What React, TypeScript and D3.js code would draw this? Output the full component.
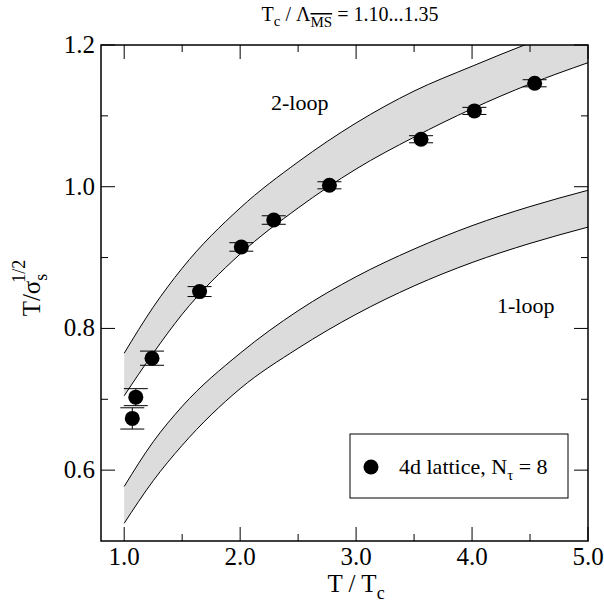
import React from 'react';
import * as d3 from 'd3';

const bandX = [1.0, 1.25, 1.5, 2.0, 2.5, 3.0, 3.5, 4.0, 4.5, 5.0];
const twoLoopLow = [0.705, 0.765, 0.82, 0.905, 0.97, 1.025, 1.07, 1.11, 1.145, 1.175];
const twoLoopHigh = [0.765, 0.83, 0.885, 0.97, 1.035, 1.09, 1.135, 1.17, 1.203, 1.232];
const oneLoopLow = [0.525, 0.585, 0.635, 0.715, 0.772, 0.82, 0.86, 0.893, 0.92, 0.943];
const oneLoopHigh = [0.577, 0.64, 0.69, 0.765, 0.825, 0.873, 0.912, 0.945, 0.972, 0.995];

const latX = [1.07, 1.1, 1.24, 1.65, 2.01, 2.29, 2.77, 3.56, 4.02, 4.54];
const latY = [0.673, 0.703, 0.758, 0.852, 0.915, 0.953, 1.002, 1.067, 1.107, 1.146];
const latErr = [0.015, 0.012, 0.01, 0.007, 0.006, 0.006, 0.005, 0.005, 0.005, 0.005];

const xTicks = [1, 2, 3, 4, 5];
const yTicks = [0.6, 0.8, 1.0, 1.2];

const W = 604, H = 612;
const m = { left: 101, right: 16, top: 45, bottom: 71 };
const x = d3.scaleLinear().domain([0.8, 5.0]).range([m.left, W - m.right]);
const y = d3.scaleLinear().domain([0.5, 1.2]).range([H - m.bottom, m.top]);
const font = "'Liberation Serif', 'Times New Roman', serif";

function Band({ lo, hi }: { lo: number[]; hi: number[] }) {
  const pts = bandX.map((v, i) => ({ x: v, lo: lo[i], hi: hi[i] }));
  const area = d3.area<any>().x(d => x(d.x)).y0(d => y(d.lo)).y1(d => y(d.hi)).curve(d3.curveMonotoneX);
  const lineLo = d3.line<any>().x(d => x(d.x)).y(d => y(d.lo)).curve(d3.curveMonotoneX);
  const lineHi = d3.line<any>().x(d => x(d.x)).y(d => y(d.hi)).curve(d3.curveMonotoneX);
  return (
    <g>
      <path d={area(pts) || ''} fill="#dcdcdc" />
      <path d={lineLo(pts) || ''} fill="none" stroke="#000" strokeWidth={1} />
      <path d={lineHi(pts) || ''} fill="none" stroke="#000" strokeWidth={1} />
    </g>
  );
}

export default function App() {
  const x0 = m.left, x1 = W - m.right, y0 = H - m.bottom, y1 = m.top;
  const xMinor = d3.range(1.5, 5.0, 1);
  return (
    <svg width={W} height={H} style={{ position: 'absolute', left: 0, top: 0, fontFamily: font }}>
      <defs>
        <clipPath id="plot"><rect x={x0} y={y1} width={x1 - x0} height={y0 - y1} /></clipPath>
      </defs>
      <g clipPath="url(#plot)">
        <Band lo={twoLoopLow} hi={twoLoopHigh} />
        <Band lo={oneLoopLow} hi={oneLoopHigh} />
      </g>
      {latX.map((v, i) => (
        <g key={i}>
          <line x1={x(v)} x2={x(v)} y1={y(latY[i] - latErr[i])} y2={y(latY[i] + latErr[i])} stroke="#000" />
          <line x1={x(v) - 12} x2={x(v) + 12} y1={y(latY[i] - latErr[i])} y2={y(latY[i] - latErr[i])} stroke="#000" />
          <line x1={x(v) - 12} x2={x(v) + 12} y1={y(latY[i] + latErr[i])} y2={y(latY[i] + latErr[i])} stroke="#000" />
          <circle cx={x(v)} cy={y(latY[i])} r={7.5} fill="#000" />
        </g>
      ))}
      <rect x={x0} y={y1} width={x1 - x0} height={y0 - y1} fill="none" stroke="#000" strokeWidth={1.5} />
      {xTicks.map(t => (
        <g key={t}>
          <line x1={x(t)} x2={x(t)} y1={y0} y2={y0 - 14} stroke="#000" />
          <line x1={x(t)} x2={x(t)} y1={y1} y2={y1 + 14} stroke="#000" />
          <text x={x(t)} y={y0 + 24} textAnchor="middle" fontSize={25}>{t.toFixed(1)}</text>
        </g>
      ))}
      {xMinor.map(t => (
        <g key={t}>
          <line x1={x(t)} x2={x(t)} y1={y0} y2={y0 - 7} stroke="#000" />
          <line x1={x(t)} x2={x(t)} y1={y1} y2={y1 + 7} stroke="#000" />
        </g>
      ))}
      {yTicks.map(t => (
        <g key={t}>
          <line x1={x0} x2={x0 + 14} y1={y(t)} y2={y(t)} stroke="#000" />
          <line x1={x1} x2={x1 - 14} y1={y(t)} y2={y(t)} stroke="#000" />
          <text x={x0 - 6} y={y(t) + 8} textAnchor="end" fontSize={25}>{t.toFixed(1)}</text>
        </g>
      ))}
      {[0.7, 0.9, 1.1].map(t => (
        <g key={t}>
          <line x1={x0} x2={x0 + 7} y1={y(t)} y2={y(t)} stroke="#000" />
          <line x1={x1} x2={x1 - 7} y1={y(t)} y2={y(t)} stroke="#000" />
        </g>
      ))}
      <text x={x(3.0)} y={592} textAnchor="middle" fontSize={25}>
        T / T<tspan dy={7} fontSize={18}>c</tspan>
      </text>
      <text transform={`translate(40, 288) rotate(-90)`} textAnchor="middle" fontSize={25}>
        T/σ<tspan dy={7} fontSize={18}>s</tspan><tspan dx={-9} dy={-22} fontSize={18}>1/2</tspan>
      </text>
      <text x={350} y={21} textAnchor="middle" fontSize={20}>
        T<tspan dy={5} fontSize={15}>c</tspan><tspan dy={-5}> / Λ</tspan>
        <tspan dy={6} fontSize={15} textDecoration="overline">MS</tspan><tspan dy={-6}> = 1.10...1.35</tspan>
      </text>
      <text x={271} y={110} fontSize={22}>2-loop</text>
      <text x={497} y={313} fontSize={22}>1-loop</text>
      <rect x={350} y={434} width={218} height={64} fill="#fff" stroke="#000" />
      <circle cx={371} cy={467} r={7.5} fill="#000" />
      <text x={399} y={474} fontSize={22}>
        4d lattice, N<tspan dy={6} fontSize={15}>τ</tspan><tspan dy={-6}> = 8</tspan>
      </text>
    </svg>
  );
}
